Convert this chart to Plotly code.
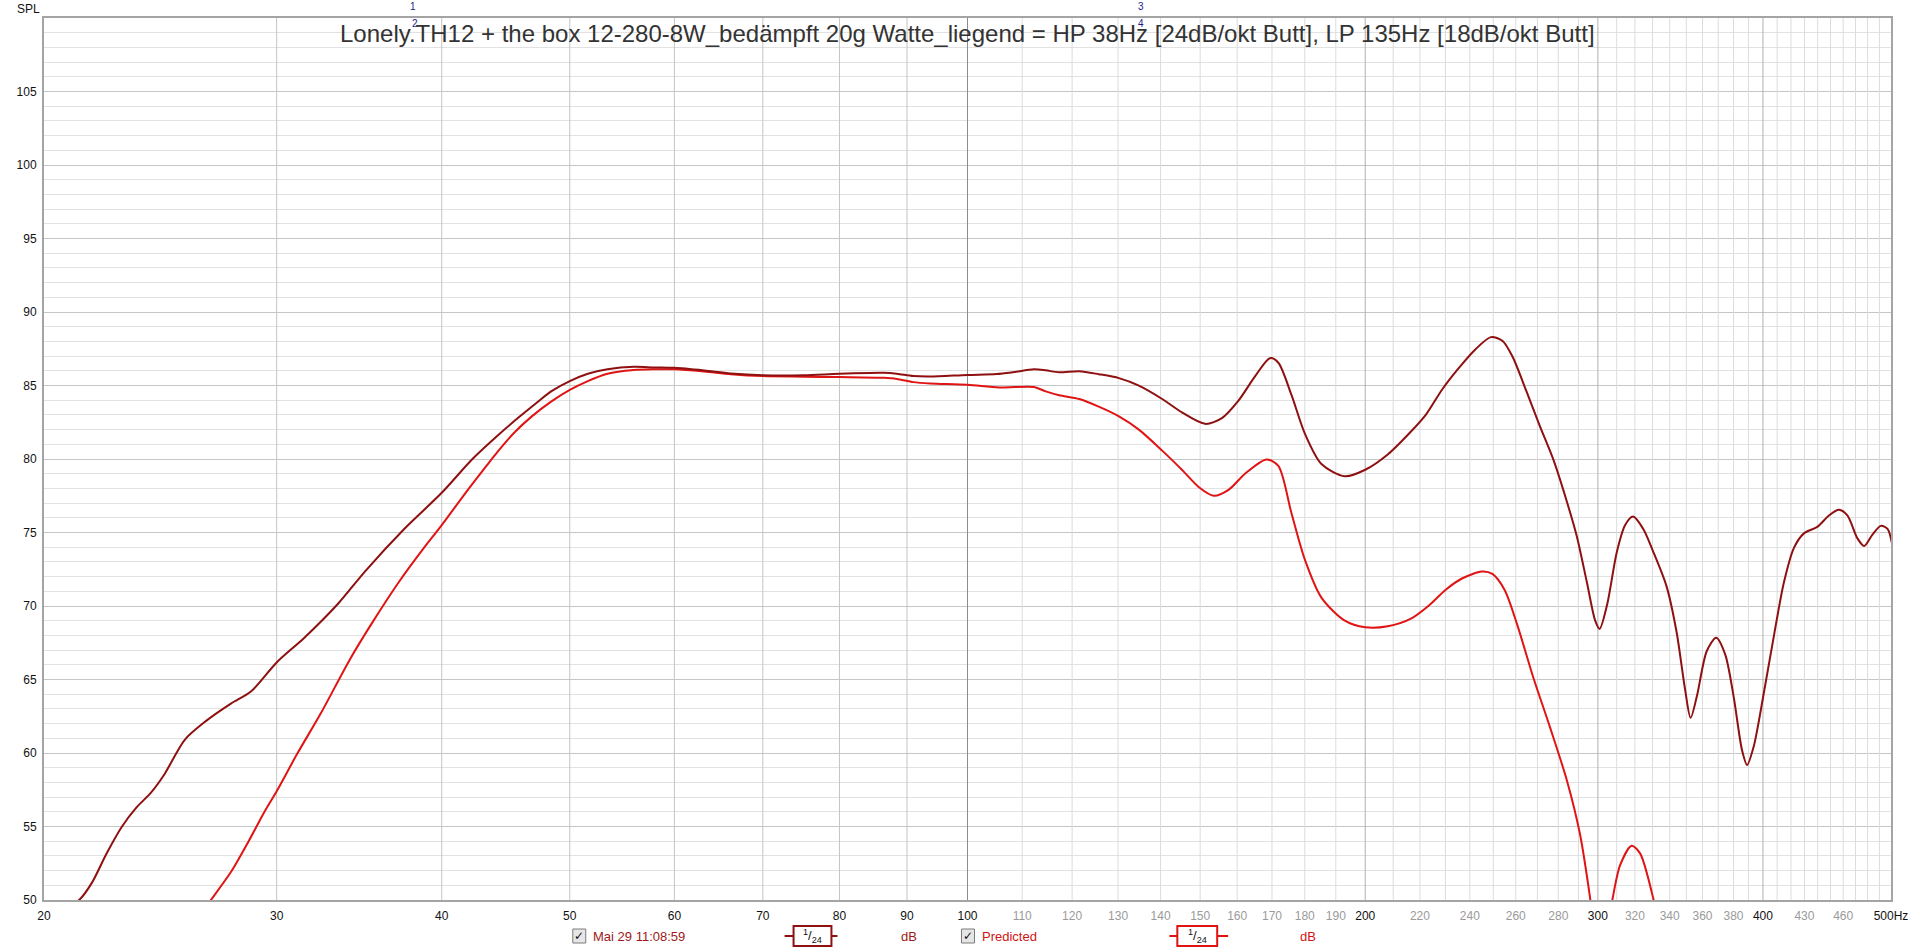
import plotly.graph_objects as go

# ---------------- data ----------------
meas_freq = [20.8, 21.26, 21.75, 22.3, 22.9, 23.5, 24.1, 24.65, 25.56, 26.5, 27.7, 28.7, 30.0, 31.5, 33.4,
             35.0, 37.5, 40.0, 42.2, 44.1, 45.7, 47.3, 48.4, 50.0, 51.6, 53.4, 55.9, 57.9, 60.0, 63.2,
             66.2, 70.0, 75.2, 80.0, 86.4, 88.4, 91.0, 93.7, 100.0, 105.2, 108.2, 112.3, 114.6, 117.3,
             121.5, 125.7, 130.2, 134.8, 140.4, 145.3, 151.3, 155.8, 160.3, 165.1, 169.4, 171.9, 175.9,
             180.0, 185.3, 193.0, 200.0, 208.0, 216.6, 222.4, 228.7, 235.3, 242.3, 249.0, 254.1, 258.6,
             264.9, 271.1, 277.7, 284.3, 289.2, 294.3, 298.6, 300.9, 304.8, 310.1, 314.6, 319.0, 324.6,
             330.4, 338.1, 344.1, 349.2, 352.6, 356.4, 362.7, 368.7, 374.6, 380.1, 385.7, 389.1, 393.6,
             400.6, 407.7, 414.9, 422.2, 429.6, 439.7, 448.8, 456.7, 463.4, 471.6, 477.1, 484.1, 491.2,
             497.0, 501.0]
meas_spl = [49.6, 50.0, 51.2, 53.15, 54.97, 56.3, 57.3, 58.5, 60.9, 62.15, 63.36, 64.2, 66.16, 67.86, 70.17,
            72.36, 75.27, 77.7, 80.0, 81.6, 82.8, 83.9, 84.6, 85.3, 85.8, 86.1, 86.27, 86.23, 86.2, 86.02,
            85.82, 85.7, 85.7, 85.8, 85.86, 85.8, 85.64, 85.61, 85.72, 85.78, 85.9, 86.1, 86.03, 85.9,
            85.97, 85.77, 85.5, 84.99, 84.08, 83.17, 82.39, 82.78, 83.95, 85.64, 86.86, 86.55, 84.34,
            81.74, 79.66, 78.83, 79.27, 80.31, 81.87, 83.04, 84.73, 86.16, 87.45, 88.29, 88.03, 86.94,
            84.6, 82.26, 79.92, 77.06, 74.73, 71.61, 69.0, 68.44, 70.05, 73.69, 75.51, 76.08, 75.25,
            73.69, 71.35, 68.23, 64.34, 62.39, 63.82, 66.94, 67.84, 66.68, 63.82, 60.18, 59.19, 60.44,
            64.08, 67.97, 71.61, 73.95, 74.94, 75.38, 76.16, 76.55, 76.16, 74.6, 74.08, 74.86, 75.45,
            75.25, 74.2]

pred_freq = [26.5, 26.75, 27.7, 28.53, 29.4, 30.0, 31.1, 32.4, 34.1, 35.4, 37.1, 38.7, 40.0, 41.7, 43.3,
             44.1, 45.4, 46.8, 48.4, 50.0, 51.6, 53.4, 55.9, 57.9, 60.0, 63.2, 66.2, 70.0, 75.2, 80.0,
             86.4, 88.4, 91.0, 93.7, 100.0, 105.7, 112.3, 114.6, 117.3, 121.5, 125.7, 130.2, 134.8, 140.4,
             145.3, 149.6, 153.6, 157.6, 162.2, 168.4, 171.9, 175.9, 180.0, 185.3, 193.0, 200.0, 208.0,
             216.6, 223.6, 230.0, 236.7, 245.1, 249.6, 255.0, 260.6, 268.1, 276.0, 284.3, 290.8, 296.0,
             299.0, 304.0, 307.8, 311.9, 318.2, 322.9, 330.4, 334.0]
pred_spl = [49.5, 50.0, 51.9, 53.9, 56.07, 57.4, 59.96, 62.7, 66.4, 68.8, 71.6, 73.85, 75.5, 77.7, 79.6,
            80.5, 81.8, 82.9, 83.9, 84.7, 85.3, 85.8, 86.05, 86.1, 86.1, 85.95, 85.77, 85.64, 85.6, 85.57,
            85.52, 85.45, 85.23, 85.14, 85.05, 84.86, 84.9, 84.6, 84.34, 84.08, 83.56, 82.9, 82.0, 80.57,
            79.27, 78.1, 77.5, 77.9, 79.0, 79.97, 79.53, 76.29, 73.17, 70.57, 69.0, 68.55, 68.62,
            69.14, 70.05, 71.09, 71.87, 72.34, 72.18, 71.09, 68.75, 65.12, 61.74, 58.1, 54.47, 50.1,
            47.0, 47.0, 50.1, 52.39, 53.69, 53.17, 50.1, 48.0]

x_tick_vals = [20, 30, 40, 50, 60, 70, 80, 90, 100, 110, 120, 130, 140, 150, 160, 170, 180, 190, 200,
               220, 240, 260, 280, 300, 320, 340, 360, 380, 400, 430, 460, 500]
x_major_labels = [20, 30, 40, 50, 60, 70, 80, 90, 100, 200, 300, 400]
y_tick_vals = [50, 55, 60, 65, 70, 75, 80, 85, 90, 95, 100, 105]

grid_mid = [30, 40, 50, 60, 70, 80, 90]
grid_dark = [100]
grid_decade = [200, 300, 400]
grid_light = [f for f in range(110, 500, 10) if f not in (200, 300, 400)]

title_text = ("Lonely.TH12 + the box 12-280-8W_bedämpft 20g Watte_liegend = HP 38Hz "
              "[24dB/okt Butt], LP 135Hz [18dB/okt Butt]")
legend1 = "Mai 29 11:08:59"
legend2 = "Predicted"

MEAS_COLOR = "#8E1010"
PRED_COLOR = "#E01414"

# ---------------- geometry helpers ----------------
W, H = 1920, 952
L, R, T, B = 44, 1897, 18, 900


def px(xp):
    return (xp - L) / (R - L)


def py(yp):
    return (B - yp) / (B - T)


fig = go.Figure()


def vgrid(freqs, color, width=1):
    xs, ys = [], []
    for f in freqs:
        xs += [f, f, None]
        ys += [50, 110, None]
    fig.add_trace(go.Scatter(x=xs, y=ys, mode="lines", line=dict(color=color, width=width),
                             hoverinfo="skip", showlegend=False))


vgrid(grid_light, "#DCDCDC")
vgrid(grid_mid, "#C4C4C4")
vgrid(grid_decade, "#B0B0B0")
vgrid(grid_dark, "#8C8C8C")

fig.add_trace(go.Scatter(x=pred_freq, y=pred_spl, mode="lines", name=legend2,
                         line=dict(color=PRED_COLOR, width=2, shape="spline", smoothing=0.8),
                         showlegend=False))
fig.add_trace(go.Scatter(x=meas_freq, y=meas_spl, mode="lines", name=legend1,
                         line=dict(color=MEAS_COLOR, width=2, shape="spline", smoothing=0.8),
                         showlegend=False))

ticktext = []
for v in x_tick_vals:
    lab = "500Hz" if v == 500 else str(v)
    if v in x_major_labels or v == 500:
        ticktext.append(lab)
    else:
        ticktext.append('<span style="color:#9A9A9A">' + lab + '</span>')

FONT = "Liberation Sans, Arial, sans-serif"

fig.update_layout(
    width=W, height=H,
    margin=dict(l=L, r=W - R, t=T, b=H - B, pad=0),
    paper_bgcolor="white", plot_bgcolor="white",
    font=dict(family=FONT, size=12, color="#111111"),
    showlegend=False,
    xaxis=dict(type="log", range=[1.30103, 2.69897], tickvals=x_tick_vals, ticktext=ticktext,
               showgrid=False, zeroline=False, showline=True, linecolor="#A4A4A4", linewidth=2,
               mirror=True, ticks="outside", ticklen=4, tickcolor="rgba(0,0,0,0)",
               tickfont=dict(size=12, color="#111111")),
    yaxis=dict(range=[50, 110], tickvals=y_tick_vals, showgrid=True, gridcolor="#C6C6C6",
               gridwidth=1, zeroline=False, showline=True, linecolor="#A4A4A4", linewidth=2,
               mirror=True, ticks="outside", ticklen=3, tickcolor="rgba(0,0,0,0)",
               tickfont=dict(size=12, color="#111111"),
               minor=dict(dtick=1, showgrid=True, gridcolor="#E2E2E2", gridwidth=1)),
)

ann = []
shapes = []

# title
ann.append(dict(text=title_text, xref="paper", yref="paper", x=px(970.5), y=py(34),
                xanchor="center", yanchor="middle", showarrow=False,
                font=dict(family=FONT, size=24, color="#333333")))
# SPL label
ann.append(dict(text="SPL", xref="paper", yref="paper", x=px(28), y=py(8.5),
                xanchor="center", yanchor="middle", showarrow=False,
                font=dict(family=FONT, size=12, color="#111111")))
# marker numbers
for txt, xx, yy in [("1", 414, 7), ("2", 416, 23), ("3", 1145, 7), ("4", 1145, 23)]:
    ann.append(dict(text=txt, xref="paper", yref="paper", x=px(xx), y=py(yy),
                    xanchor="center", yanchor="middle", showarrow=False,
                    font=dict(family=FONT, size=10, color="#1C1C8C")))

# legend row
LY = 936


def checkbox(xc):
    shapes.append(dict(type="rect", xref="paper", yref="paper",
                       x0=px(xc - 6.5), x1=px(xc + 6.5), y0=py(LY - 7), y1=py(LY + 7),
                       line=dict(color="#7A7A7A", width=1), fillcolor="#E6E6E6"))
    ann.append(dict(text="✓", xref="paper", yref="paper", x=px(xc), y=py(LY),
                    xanchor="center", yanchor="middle", showarrow=False,
                    font=dict(family="DejaVu Sans", size=12, color="#111111")))


def smoothbox(x0, x1, bx0, bx1, color):
    shapes.append(dict(type="line", xref="paper", yref="paper", x0=px(x0), x1=px(x1),
                       y0=py(LY), y1=py(LY), line=dict(color=color, width=2)))
    shapes.append(dict(type="rect", xref="paper", yref="paper", x0=px(bx0), x1=px(bx1),
                       y0=py(LY - 10), y1=py(LY + 10), line=dict(color=color, width=2),
                       fillcolor="white"))
    ann.append(dict(text="<sup>1</sup>/<sub>24</sub>", xref="paper", yref="paper",
                    x=px((bx0 + bx1) / 2), y=py(LY), xanchor="center", yanchor="middle",
                    showarrow=False, font=dict(family=FONT, size=13, color="#111111")))


def ltext(txt, xl, color):
    ann.append(dict(text=txt, xref="paper", yref="paper", x=px(xl), y=py(LY),
                    xanchor="left", yanchor="middle", showarrow=False,
                    font=dict(family=FONT, size=13, color=color)))


checkbox(581)
ltext(legend1, 593, "#A01818")
smoothbox(787, 840, 796, 834, MEAS_COLOR)
ltext("dB", 902, "#A01818")

checkbox(971)
ltext(legend2, 983, "#D01414")
smoothbox(1173, 1232, 1181, 1221, PRED_COLOR)
ltext("dB", 1302, "#D01414")

fig.update_layout(annotations=ann, shapes=shapes)

fig.write_html("out.html", config={"displayModeBar": False},
               post_script="document.body.style.margin='0';document.body.style.overflow='hidden';")
